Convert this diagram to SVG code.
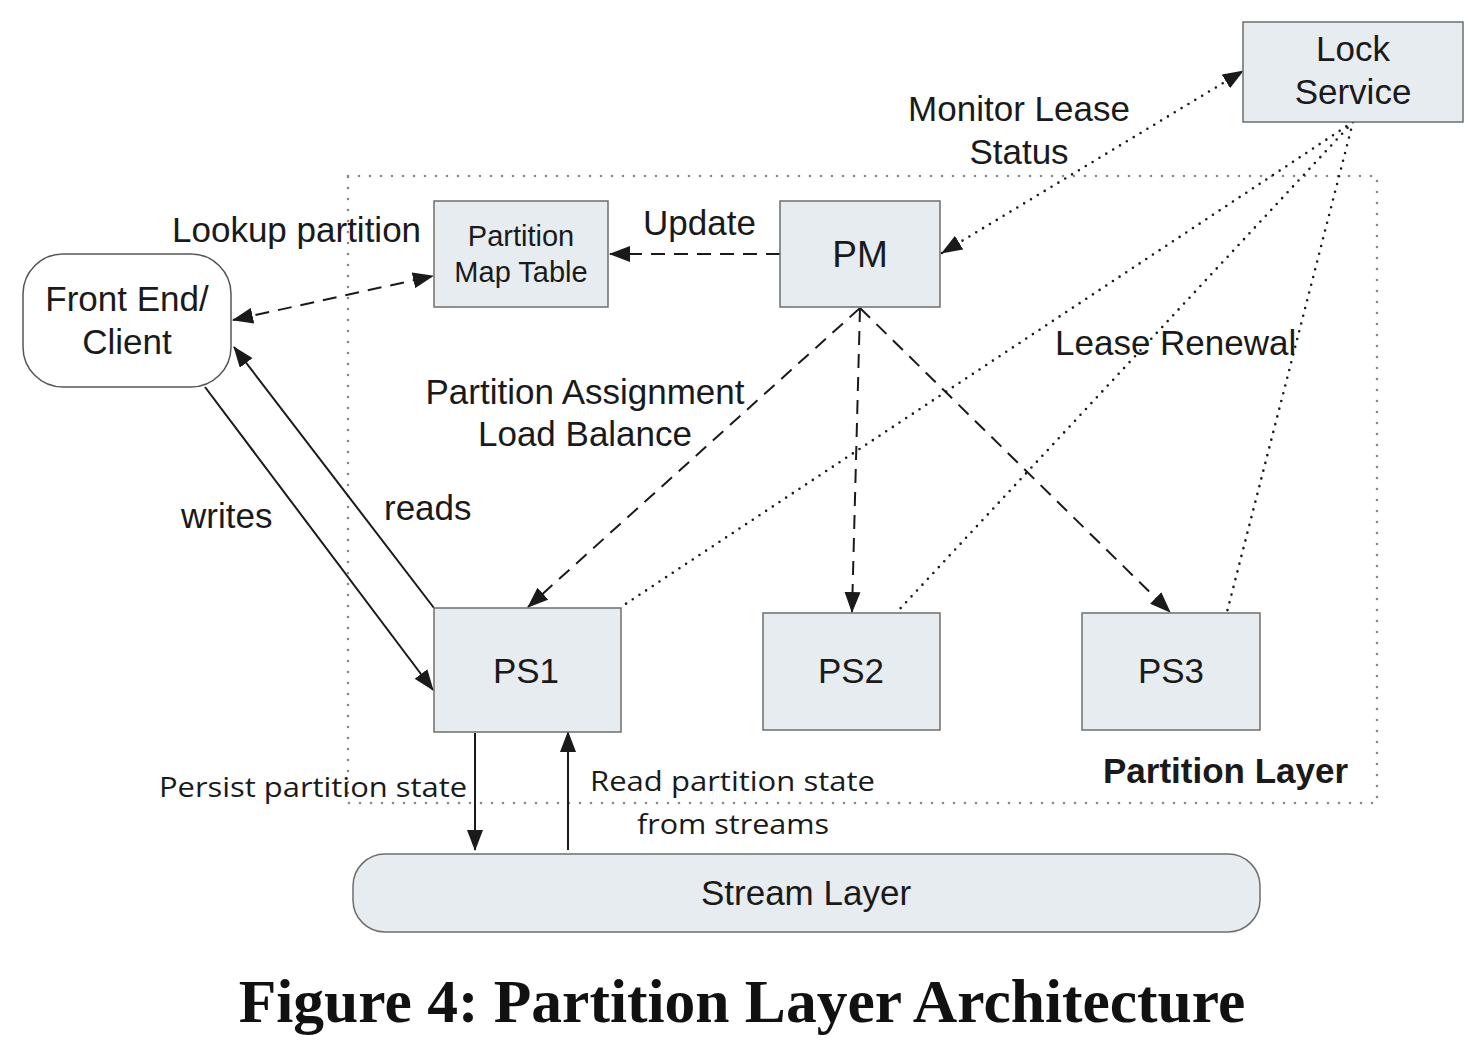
<svg xmlns="http://www.w3.org/2000/svg" width="1480" height="1042" viewBox="0 0 1480 1042">
<style>
.box{fill:#e7ecf1;stroke:#6e6e6e;stroke-width:1.5}
.t{font-family:"Liberation Sans",Arial,sans-serif;fill:#1a1a1a}
.c{font-family:"Open Sans","Noto Sans",sans-serif;fill:#1a1a1a}
.dash{fill:none;stroke:#1a1a1a;stroke-width:2;stroke-dasharray:14,9}
.dot{fill:none;stroke:#1a1a1a;stroke-width:2.6;stroke-dasharray:0,8;stroke-linecap:round}
.solid{fill:none;stroke:#1a1a1a;stroke-width:2}
</style>
<defs>
<marker id="ah" markerUnits="userSpaceOnUse" markerWidth="22" markerHeight="16" refX="20" refY="8" orient="auto-start-reverse">
<path d="M0,0 L21,8 L0,16 z" fill="#1a1a1a"/>
</marker>
</defs>
<rect width="1480" height="1042" fill="#fff"/>
<g id="partition-layer">
<rect x="348" y="176" width="1029" height="627" fill="none" stroke="#888" stroke-width="2.6" stroke-dasharray="0,11" stroke-linecap="round"/>
<text class="t" x="1103" y="783" font-size="35" font-weight="bold">Partition Layer</text>
</g>
<g id="connectors">
<line class="dash" x1="233" y1="320" x2="433" y2="276" marker-start="url(#ah)" marker-end="url(#ah)"/>
<line class="dash" x1="780" y1="254" x2="610" y2="254" marker-end="url(#ah)"/>
<line class="dot" x1="942" y1="253" x2="1243" y2="71" marker-start="url(#ah)" marker-end="url(#ah)"/>
<line class="dash" x1="860" y1="308" x2="528" y2="607" marker-end="url(#ah)"/>
<line class="dash" x1="860" y1="308" x2="852" y2="612" marker-end="url(#ah)"/>
<line class="dash" x1="860" y1="308" x2="1170" y2="612" marker-end="url(#ah)"/>
<line class="dot" x1="1353" y1="122" x2="621" y2="607"/>
<line class="dot" x1="1353" y1="122" x2="897" y2="612"/>
<line class="dot" x1="1353" y1="122" x2="1227" y2="612"/>
<line class="solid" x1="205" y1="387" x2="433" y2="690" marker-end="url(#ah)"/>
<line class="solid" x1="434" y1="608" x2="234" y2="347" marker-end="url(#ah)"/>
<line class="solid" x1="475" y1="733" x2="475" y2="850" marker-end="url(#ah)"/>
<line class="solid" x1="568" y1="850" x2="568" y2="732" marker-end="url(#ah)"/>
<text class="t" x="172" y="242" font-size="35">Lookup partition</text>
<text class="t" x="643" y="235" font-size="35">Update</text>
<text class="t" x="1019" y="121" font-size="35" text-anchor="middle">Monitor Lease</text>
<text class="t" x="1019" y="164" font-size="35" text-anchor="middle">Status</text>
<text class="t" x="1055" y="355" font-size="35">Lease Renewal</text>
<text class="t" x="585" y="404" font-size="35" text-anchor="middle">Partition Assignment</text>
<text class="t" x="585" y="446" font-size="35" text-anchor="middle">Load Balance</text>
<text class="t" x="181" y="528" font-size="35">writes</text>
<text class="t" x="384" y="520" font-size="35">reads</text>
<text class="c" x="159" y="797" font-size="28" textLength="308" lengthAdjust="spacingAndGlyphs">Persist partition state</text>
<text class="c" x="590" y="791" font-size="28" textLength="285" lengthAdjust="spacingAndGlyphs">Read partition state</text>
<text class="c" x="637" y="834" font-size="28" textLength="192" lengthAdjust="spacingAndGlyphs">from streams</text>
</g>
<g id="lock-service">
<rect class="box" x="1243" y="22" width="220" height="100"/>
<text class="t" x="1353" y="61" font-size="35" text-anchor="middle">Lock</text>
<text class="t" x="1353" y="104" font-size="35" text-anchor="middle">Service</text>
</g>
<g id="partition-map-table">
<rect class="box" x="434" y="201" width="174" height="106"/>
<text class="t" x="521" y="246" font-size="29" text-anchor="middle">Partition</text>
<text class="t" x="521" y="282" font-size="29" text-anchor="middle">Map Table</text>
</g>
<g id="pm">
<rect class="box" x="780" y="201" width="160" height="106"/>
<text class="t" x="860" y="267" font-size="37" text-anchor="middle">PM</text>
</g>
<g id="front-end">
<rect x="23" y="254" width="208" height="133" rx="40" fill="#fff" stroke="#555" stroke-width="1.5"/>
<text class="t" x="127" y="311" font-size="35" text-anchor="middle">Front End/</text>
<text class="t" x="127" y="354" font-size="35" text-anchor="middle">Client</text>
</g>
<g id="ps1">
<rect class="box" x="434" y="608" width="187" height="124"/>
<text class="t" x="526" y="683" font-size="35" text-anchor="middle">PS1</text>
</g>
<g id="ps2">
<rect class="box" x="763" y="613" width="177" height="117"/>
<text class="t" x="851" y="683" font-size="35" text-anchor="middle">PS2</text>
</g>
<g id="ps3">
<rect class="box" x="1082" y="613" width="178" height="117"/>
<text class="t" x="1171" y="683" font-size="35" text-anchor="middle">PS3</text>
</g>
<g id="stream-layer">
<rect class="box" x="353" y="854" width="907" height="78" rx="32"/>
<text class="t" x="806" y="905" font-size="35" text-anchor="middle">Stream Layer</text>
</g>
<text x="742" y="1022" font-family="Liberation Serif,'Times New Roman',serif" font-size="61.5" font-weight="bold" text-anchor="middle" fill="#111">Figure 4: Partition Layer Architecture</text>
</svg>
